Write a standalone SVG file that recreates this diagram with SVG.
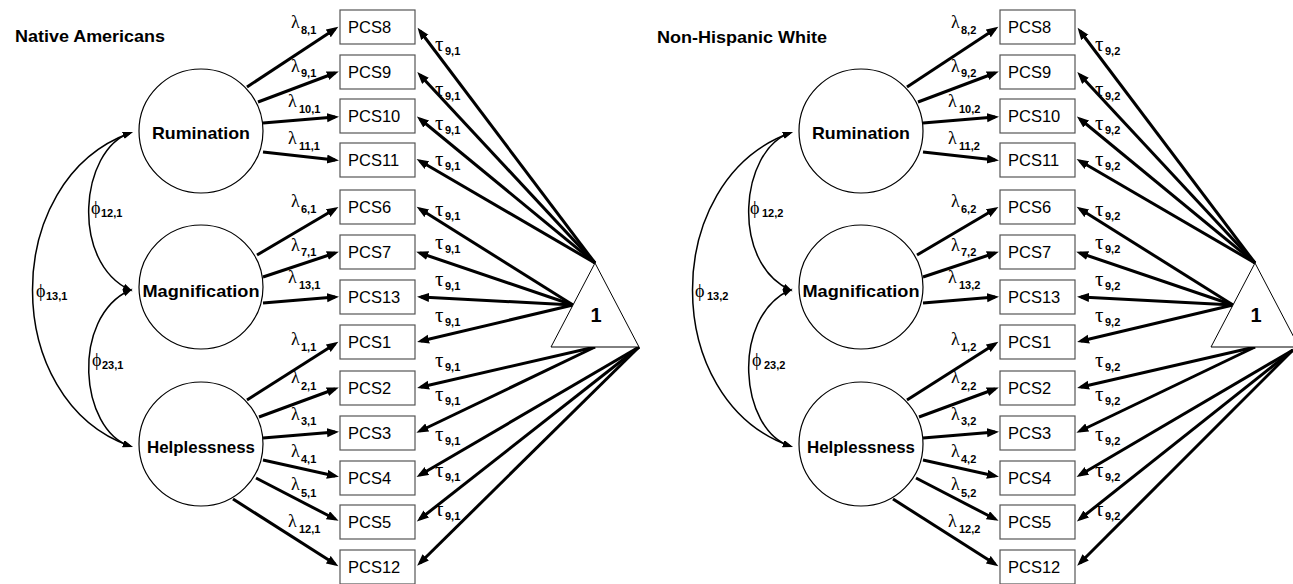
<svg xmlns="http://www.w3.org/2000/svg" width="1293" height="584" viewBox="0 0 1293 584">
<defs>
<style>
.box{fill:#fff;stroke:#555;stroke-width:1.2}
.bt{font-family:"Liberation Sans",Arial,sans-serif;font-size:16.5px;fill:#000}
.lat{fill:#fff;stroke:#000;stroke-width:1.2}
.lt{font-family:"Liberation Sans",Arial,sans-serif;font-weight:bold;font-size:17px;text-anchor:middle}
.title{font-family:"Liberation Sans",Arial,sans-serif;font-weight:bold;font-size:16px}
.one{font-family:"Liberation Sans",Arial,sans-serif;font-weight:bold;font-size:20px;text-anchor:middle}
.tri{fill:#fff;stroke:#000;stroke-width:1}
.gl{font-family:"Liberation Serif","DejaVu Serif",serif;font-size:18px}
.gt{font-family:"Liberation Serif","DejaVu Serif",serif;font-size:21px}
.gp{font-family:"Liberation Serif","DejaVu Serif",serif;font-size:18px}
.s{font-family:"Liberation Sans",Arial,sans-serif;font-weight:bold;font-size:11px}
.p{stroke:#000;stroke-width:3;fill:none;marker-end:url(#ah)}
.c{stroke:#000;stroke-width:1.5;fill:none;marker-start:url(#ah2);marker-end:url(#ah2)}
</style>
<marker id="ah" markerUnits="userSpaceOnUse" markerWidth="13" markerHeight="10" refX="8" refY="4.5" orient="auto"><path d="M0,0 L12,4.5 L0,9 Z" fill="#000"/></marker>
<marker id="ah2" markerUnits="userSpaceOnUse" markerWidth="11" markerHeight="9" refX="7" refY="3.5" orient="auto-start-reverse"><path d="M0,0 L10,3.5 L0,7 Z" fill="#000"/></marker>
</defs>
<rect x="0" y="0" width="1293" height="584" fill="#fff"/>

<g id="panel1">
<text class="title" x="15" y="42" textLength="150" lengthAdjust="spacingAndGlyphs">Native Americans</text>
<g id="connectors1">
<path class="c" d="M130,133 C80,150 70,262 130,290"/>
<path class="c" d="M130,290 C70,318 80,430 130,446"/>
<path class="c" d="M130,133 C0,180 0,400 130,446"/>
<line class="p" x1="247" y1="87" x2="335" y2="29"/>
<line class="p" x1="258" y1="102" x2="335" y2="73"/>
<line class="p" x1="263" y1="123" x2="335" y2="117"/>
<line class="p" x1="263" y1="152" x2="335" y2="160"/>
<line class="p" x1="257" y1="255" x2="335" y2="209"/>
<line class="p" x1="263" y1="277" x2="335" y2="253"/>
<line class="p" x1="263" y1="303" x2="335" y2="297"/>
<line class="p" x1="247" y1="400" x2="335" y2="344"/>
<line class="p" x1="259" y1="417" x2="335" y2="389"/>
<line class="p" x1="263" y1="438" x2="335" y2="432"/>
<line class="p" x1="263" y1="460" x2="335" y2="476"/>
<line class="p" x1="256" y1="478" x2="335" y2="519"/>
<line class="p" x1="233" y1="499" x2="335" y2="564"/>
<line class="p" x1="595" y1="263" x2="420" y2="31"/>
<line class="p" x1="595" y1="263" x2="420" y2="75"/>
<line class="p" x1="595" y1="263" x2="420" y2="119"/>
<line class="p" x1="595" y1="263" x2="420" y2="161"/>
<line class="p" x1="573" y1="305" x2="420" y2="209"/>
<line class="p" x1="573" y1="305" x2="420" y2="253"/>
<line class="p" x1="573" y1="305" x2="421" y2="297"/>
<line class="p" x1="573" y1="305" x2="421" y2="341"/>
<line class="p" x1="595" y1="347" x2="421" y2="387"/>
<line class="p" x1="595" y1="347" x2="420" y2="431"/>
<line class="p" x1="639" y1="347" x2="420" y2="475"/>
<line class="p" x1="639" y1="347" x2="420" y2="519"/>
<line class="p" x1="639" y1="347" x2="420" y2="563"/>
<text class="gp" x="91" y="214">ϕ<tspan class="s" x="101" y="217">12,1</tspan></text>
<text class="gp" x="36" y="297">ϕ<tspan class="s" x="46" y="300">13,1</tspan></text>
<text class="gp" x="92" y="366">ϕ<tspan class="s" x="102" y="369">23,1</tspan></text>
<text class="gl" x="291" y="28">λ<tspan class="s" x="301" y="34">8,1</tspan></text>
<text class="gl" x="291" y="72">λ<tspan class="s" x="301" y="77">9,1</tspan></text>
<text class="gl" x="288" y="107">λ<tspan class="s" x="299" y="113">10,1</tspan></text>
<text class="gl" x="288" y="144">λ<tspan class="s" x="299" y="150">11,1</tspan></text>
<text class="gl" x="291" y="207">λ<tspan class="s" x="301" y="213">6,1</tspan></text>
<text class="gl" x="291" y="251">λ<tspan class="s" x="301" y="256">7,1</tspan></text>
<text class="gl" x="288" y="283">λ<tspan class="s" x="299" y="289">13,1</tspan></text>
<text class="gl" x="291" y="345">λ<tspan class="s" x="301" y="351">1,1</tspan></text>
<text class="gl" x="291" y="383">λ<tspan class="s" x="301" y="390">2,1</tspan></text>
<text class="gl" x="291" y="420">λ<tspan class="s" x="301" y="425">3,1</tspan></text>
<text class="gl" x="291" y="457">λ<tspan class="s" x="301" y="463">4,1</tspan></text>
<text class="gl" x="291" y="490">λ<tspan class="s" x="301" y="497">5,1</tspan></text>
<text class="gl" x="288" y="527">λ<tspan class="s" x="299" y="533">12,1</tspan></text>
<text class="gt" x="435" y="51">τ<tspan class="s" x="445" y="55">9,1</tspan></text>
<text class="gt" x="435" y="96">τ<tspan class="s" x="445" y="100">9,1</tspan></text>
<text class="gt" x="435" y="130">τ<tspan class="s" x="445" y="134">9,1</tspan></text>
<text class="gt" x="435" y="166">τ<tspan class="s" x="445" y="170">9,1</tspan></text>
<text class="gt" x="435" y="216">τ<tspan class="s" x="445" y="220">9,1</tspan></text>
<text class="gt" x="435" y="249">τ<tspan class="s" x="445" y="253">9,1</tspan></text>
<text class="gt" x="435" y="286">τ<tspan class="s" x="445" y="290">9,1</tspan></text>
<text class="gt" x="435" y="322">τ<tspan class="s" x="445" y="326">9,1</tspan></text>
<text class="gt" x="435" y="367">τ<tspan class="s" x="445" y="371">9,1</tspan></text>
<text class="gt" x="435" y="401">τ<tspan class="s" x="445" y="405">9,1</tspan></text>
<text class="gt" x="435" y="441">τ<tspan class="s" x="445" y="445">9,1</tspan></text>
<text class="gt" x="435" y="477">τ<tspan class="s" x="445" y="481">9,1</tspan></text>
<text class="gt" x="435" y="516">τ<tspan class="s" x="445" y="520">9,1</tspan></text>
</g>
<g id="rum1"><circle class="lat" cx="201" cy="131" r="62"/><text class="lt" x="201" y="139" textLength="98" lengthAdjust="spacingAndGlyphs">Rumination</text></g>
<g id="mag1"><circle class="lat" cx="201" cy="287" r="62"/><text class="lt" x="201" y="297" textLength="117" lengthAdjust="spacingAndGlyphs">Magnification</text></g>
<g id="help1"><circle class="lat" cx="201" cy="444" r="62"/><text class="lt" x="201" y="453" textLength="108" lengthAdjust="spacingAndGlyphs">Helplessness</text></g>
<g id="one1"><polygon class="tri" points="595,263 551,347 639,347"/><text class="one" x="596" y="322">1</text></g>
<g id="pcs8_1"><rect class="box" x="340" y="10" width="75" height="34"/><text class="bt" x="348" y="33">PCS8</text></g>
<g id="pcs9_1"><rect class="box" x="340" y="55" width="75" height="34"/><text class="bt" x="348" y="78">PCS9</text></g>
<g id="pcs10_1"><rect class="box" x="340" y="99" width="75" height="34"/><text class="bt" x="348" y="122">PCS10</text></g>
<g id="pcs11_1"><rect class="box" x="340" y="143" width="75" height="34"/><text class="bt" x="348" y="166">PCS11</text></g>
<g id="pcs6_1"><rect class="box" x="340" y="190" width="75" height="34"/><text class="bt" x="348" y="213">PCS6</text></g>
<g id="pcs7_1"><rect class="box" x="340" y="235" width="75" height="34"/><text class="bt" x="348" y="258">PCS7</text></g>
<g id="pcs13_1"><rect class="box" x="340" y="280" width="75" height="34"/><text class="bt" x="348" y="303">PCS13</text></g>
<g id="pcs1_1"><rect class="box" x="340" y="325" width="75" height="34"/><text class="bt" x="348" y="348">PCS1</text></g>
<g id="pcs2_1"><rect class="box" x="340" y="371" width="75" height="34"/><text class="bt" x="348" y="394">PCS2</text></g>
<g id="pcs3_1"><rect class="box" x="340" y="416" width="75" height="34"/><text class="bt" x="348" y="439">PCS3</text></g>
<g id="pcs4_1"><rect class="box" x="340" y="461" width="75" height="34"/><text class="bt" x="348" y="484">PCS4</text></g>
<g id="pcs5_1"><rect class="box" x="340" y="505" width="75" height="34"/><text class="bt" x="348" y="528">PCS5</text></g>
<g id="pcs12_1"><rect class="box" x="340" y="550" width="75" height="34"/><text class="bt" x="348" y="573">PCS12</text></g>
</g>

<text class="title" x="657" y="43" textLength="170" lengthAdjust="spacingAndGlyphs">Non-Hispanic White</text>
<g id="panel2" transform="translate(660,0)">
<g id="connectors2">
<path class="c" d="M130,133 C80,150 70,262 130,290"/>
<path class="c" d="M130,290 C70,318 80,430 130,446"/>
<path class="c" d="M130,133 C0,180 0,400 130,446"/>
<line class="p" x1="247" y1="87" x2="335" y2="29"/>
<line class="p" x1="258" y1="102" x2="335" y2="73"/>
<line class="p" x1="263" y1="123" x2="335" y2="117"/>
<line class="p" x1="263" y1="152" x2="335" y2="160"/>
<line class="p" x1="257" y1="255" x2="335" y2="209"/>
<line class="p" x1="263" y1="277" x2="335" y2="253"/>
<line class="p" x1="263" y1="303" x2="335" y2="297"/>
<line class="p" x1="247" y1="400" x2="335" y2="344"/>
<line class="p" x1="259" y1="417" x2="335" y2="389"/>
<line class="p" x1="263" y1="438" x2="335" y2="432"/>
<line class="p" x1="263" y1="460" x2="335" y2="476"/>
<line class="p" x1="256" y1="478" x2="335" y2="519"/>
<line class="p" x1="233" y1="499" x2="335" y2="564"/>
<line class="p" x1="595" y1="263" x2="420" y2="31"/>
<line class="p" x1="595" y1="263" x2="420" y2="75"/>
<line class="p" x1="595" y1="263" x2="420" y2="119"/>
<line class="p" x1="595" y1="263" x2="420" y2="161"/>
<line class="p" x1="573" y1="305" x2="420" y2="209"/>
<line class="p" x1="573" y1="305" x2="420" y2="253"/>
<line class="p" x1="573" y1="305" x2="421" y2="297"/>
<line class="p" x1="573" y1="305" x2="421" y2="341"/>
<line class="p" x1="595" y1="347" x2="421" y2="387"/>
<line class="p" x1="595" y1="347" x2="420" y2="431"/>
<line class="p" x1="633" y1="350" x2="420" y2="475"/>
<line class="p" x1="633" y1="350" x2="420" y2="519"/>
<line class="p" x1="633" y1="350" x2="420" y2="563"/>
<text class="gp" x="90" y="214">ϕ<tspan class="s" x="102" y="217">12,2</tspan></text>
<text class="gp" x="35" y="297">ϕ<tspan class="s" x="47" y="300">13,2</tspan></text>
<text class="gp" x="92" y="366">ϕ<tspan class="s" x="104" y="369">23,2</tspan></text>
<text class="gl" x="291" y="28">λ<tspan class="s" x="301" y="34">8,2</tspan></text>
<text class="gl" x="291" y="72">λ<tspan class="s" x="301" y="77">9,2</tspan></text>
<text class="gl" x="288" y="107">λ<tspan class="s" x="299" y="113">10,2</tspan></text>
<text class="gl" x="288" y="144">λ<tspan class="s" x="299" y="150">11,2</tspan></text>
<text class="gl" x="291" y="207">λ<tspan class="s" x="301" y="213">6,2</tspan></text>
<text class="gl" x="291" y="251">λ<tspan class="s" x="301" y="256">7,2</tspan></text>
<text class="gl" x="288" y="283">λ<tspan class="s" x="299" y="289">13,2</tspan></text>
<text class="gl" x="291" y="345">λ<tspan class="s" x="301" y="351">1,2</tspan></text>
<text class="gl" x="291" y="383">λ<tspan class="s" x="301" y="390">2,2</tspan></text>
<text class="gl" x="291" y="420">λ<tspan class="s" x="301" y="425">3,2</tspan></text>
<text class="gl" x="291" y="457">λ<tspan class="s" x="301" y="463">4,2</tspan></text>
<text class="gl" x="291" y="490">λ<tspan class="s" x="301" y="497">5,2</tspan></text>
<text class="gl" x="288" y="527">λ<tspan class="s" x="299" y="533">12,2</tspan></text>
<text class="gt" x="435" y="51">τ<tspan class="s" x="445" y="55">9,2</tspan></text>
<text class="gt" x="435" y="96">τ<tspan class="s" x="445" y="100">9,2</tspan></text>
<text class="gt" x="435" y="130">τ<tspan class="s" x="445" y="134">9,2</tspan></text>
<text class="gt" x="435" y="166">τ<tspan class="s" x="445" y="170">9,2</tspan></text>
<text class="gt" x="435" y="216">τ<tspan class="s" x="445" y="220">9,2</tspan></text>
<text class="gt" x="435" y="249">τ<tspan class="s" x="445" y="253">9,2</tspan></text>
<text class="gt" x="435" y="286">τ<tspan class="s" x="445" y="290">9,2</tspan></text>
<text class="gt" x="435" y="322">τ<tspan class="s" x="445" y="326">9,2</tspan></text>
<text class="gt" x="435" y="367">τ<tspan class="s" x="445" y="371">9,2</tspan></text>
<text class="gt" x="435" y="401">τ<tspan class="s" x="445" y="405">9,2</tspan></text>
<text class="gt" x="435" y="441">τ<tspan class="s" x="445" y="445">9,2</tspan></text>
<text class="gt" x="435" y="477">τ<tspan class="s" x="445" y="481">9,2</tspan></text>
<text class="gt" x="435" y="516">τ<tspan class="s" x="445" y="520">9,2</tspan></text>
</g>
<g id="rum2"><circle class="lat" cx="201" cy="131" r="62"/><text class="lt" x="201" y="139" textLength="98" lengthAdjust="spacingAndGlyphs">Rumination</text></g>
<g id="mag2"><circle class="lat" cx="201" cy="287" r="62"/><text class="lt" x="201" y="297" textLength="117" lengthAdjust="spacingAndGlyphs">Magnification</text></g>
<g id="help2"><circle class="lat" cx="201" cy="444" r="62"/><text class="lt" x="201" y="453" textLength="108" lengthAdjust="spacingAndGlyphs">Helplessness</text></g>
<g id="one2"><polygon class="tri" points="595,263 551,347 639,347"/><text class="one" x="596" y="322">1</text></g>
<g id="pcs8_2"><rect class="box" x="340" y="10" width="75" height="34"/><text class="bt" x="348" y="33">PCS8</text></g>
<g id="pcs9_2"><rect class="box" x="340" y="55" width="75" height="34"/><text class="bt" x="348" y="78">PCS9</text></g>
<g id="pcs10_2"><rect class="box" x="340" y="99" width="75" height="34"/><text class="bt" x="348" y="122">PCS10</text></g>
<g id="pcs11_2"><rect class="box" x="340" y="143" width="75" height="34"/><text class="bt" x="348" y="166">PCS11</text></g>
<g id="pcs6_2"><rect class="box" x="340" y="190" width="75" height="34"/><text class="bt" x="348" y="213">PCS6</text></g>
<g id="pcs7_2"><rect class="box" x="340" y="235" width="75" height="34"/><text class="bt" x="348" y="258">PCS7</text></g>
<g id="pcs13_2"><rect class="box" x="340" y="280" width="75" height="34"/><text class="bt" x="348" y="303">PCS13</text></g>
<g id="pcs1_2"><rect class="box" x="340" y="325" width="75" height="34"/><text class="bt" x="348" y="348">PCS1</text></g>
<g id="pcs2_2"><rect class="box" x="340" y="371" width="75" height="34"/><text class="bt" x="348" y="394">PCS2</text></g>
<g id="pcs3_2"><rect class="box" x="340" y="416" width="75" height="34"/><text class="bt" x="348" y="439">PCS3</text></g>
<g id="pcs4_2"><rect class="box" x="340" y="461" width="75" height="34"/><text class="bt" x="348" y="484">PCS4</text></g>
<g id="pcs5_2"><rect class="box" x="340" y="505" width="75" height="34"/><text class="bt" x="348" y="528">PCS5</text></g>
<g id="pcs12_2"><rect class="box" x="340" y="550" width="75" height="34"/><text class="bt" x="348" y="573">PCS12</text></g>
</g>
</svg>
